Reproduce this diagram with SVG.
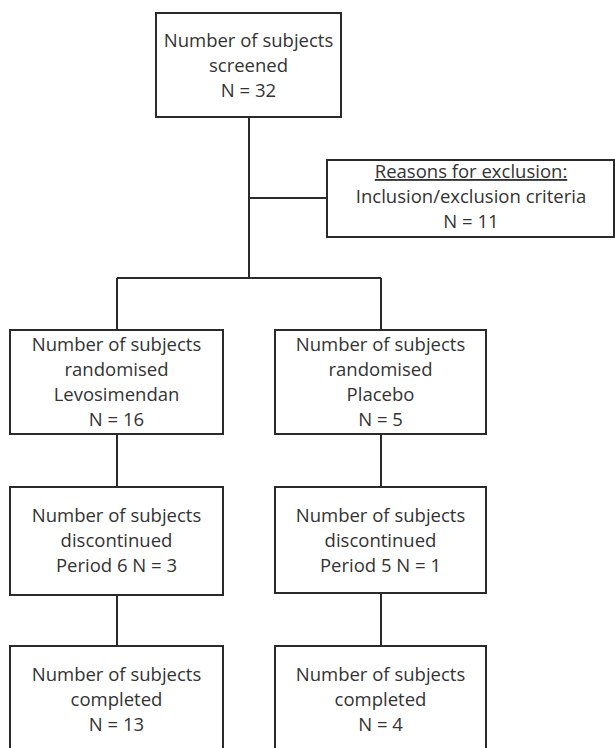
<svg xmlns="http://www.w3.org/2000/svg" width="615" height="748" viewBox="0 0 615 748">
<style>
.box{fill:#fff;stroke:#2a2a2a;stroke-width:2}
.ln{stroke:#2a2a2a;stroke-width:2;fill:none}
text{font-family:"Open Sans","Liberation Sans",sans-serif;font-size:18.5px;fill:#333;text-anchor:middle}
</style>
<rect width="615" height="748" fill="#fff"/>
<g id="connectors">
<path class="ln" d="M249,117 V278 M249,198 H327 M117,278 H381 M117,278 V330 M381,278 V330 M117,434 V487 M381,434 V487 M117,595 V646 M381,593 V646"/>
</g>
<g id="screened">
<rect class="box" x="156" y="13" width="185" height="104"/>
<text x="248.5" y="47">Number of subjects</text>
<text x="248.5" y="72">screened</text>
<text x="248.5" y="97">N = 32</text>
</g>
<g id="exclusion">
<rect class="box" x="327" y="160" width="287" height="77"/>
<text x="471" y="178" text-decoration="underline">Reasons for exclusion:</text>
<text x="471" y="203">Inclusion/exclusion criteria</text>
<text x="471" y="228">N = 11</text>
</g>
<g id="rand-levo">
<rect class="box" x="10" y="330" width="213" height="104"/>
<text x="116.5" y="351">Number of subjects</text>
<text x="116.5" y="376">randomised</text>
<text x="116.5" y="401">Levosimendan</text>
<text x="116.5" y="426">N = 16</text>
</g>
<g id="rand-placebo">
<rect class="box" x="275" y="330" width="211" height="104"/>
<text x="380.5" y="351">Number of subjects</text>
<text x="380.5" y="376">randomised</text>
<text x="380.5" y="401">Placebo</text>
<text x="380.5" y="426">N = 5</text>
</g>
<g id="disc-levo">
<rect class="box" x="10" y="487" width="213" height="108"/>
<text x="116.5" y="522">Number of subjects</text>
<text x="116.5" y="547">discontinued</text>
<text x="116.5" y="572">Period 6 N = 3</text>
</g>
<g id="disc-placebo">
<rect class="box" x="275" y="487" width="211" height="106"/>
<text x="380.5" y="522">Number of subjects</text>
<text x="380.5" y="547">discontinued</text>
<text x="380.5" y="572">Period 5 N = 1</text>
</g>
<g id="comp-levo">
<rect class="box" x="10" y="646" width="213" height="120"/>
<text x="116.5" y="681">Number of subjects</text>
<text x="116.5" y="706">completed</text>
<text x="116.5" y="731">N = 13</text>
</g>
<g id="comp-placebo">
<rect class="box" x="275" y="646" width="211" height="120"/>
<text x="380.5" y="681">Number of subjects</text>
<text x="380.5" y="706">completed</text>
<text x="380.5" y="731">N = 4</text>
</g>
</svg>
